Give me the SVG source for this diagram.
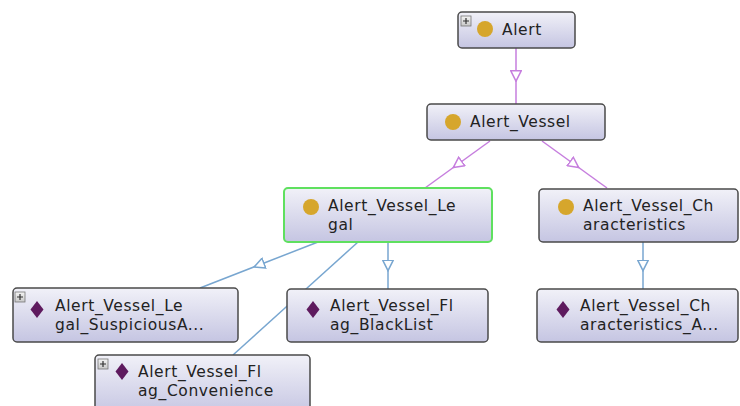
<svg xmlns="http://www.w3.org/2000/svg" width="740" height="406" viewBox="0 0 740 406">
<style>
.box{fill:url(#g);stroke:#4a4a4a;stroke-width:1.5}
.sel{fill:url(#g);stroke:#5fe05f;stroke-width:2}
.t{font-family:"DejaVu Sans",Verdana,sans-serif;font-size:15.5px;letter-spacing:0.6px;fill:#222}
.c{fill:#d6a62c}
.d{fill:#5e1a5e}
.p{fill:url(#pg);stroke:#777;stroke-width:0.8}
.pl{stroke:#333;stroke-width:1.2}
.e1{fill:none;stroke:#c67ede;stroke-width:1.5;marker-mid:url(#ap)}
.e2{fill:none;stroke:#78a6d0;stroke-width:1.5;marker-mid:url(#ab)}
</style>
<defs>
<linearGradient id="g" x1="0" y1="0" x2="0" y2="1">
<stop offset="0" stop-color="#f1f1f8"/>
<stop offset="1" stop-color="#c5c5e2"/>
</linearGradient>
<linearGradient id="pg" x1="0" y1="0" x2="0" y2="1">
<stop offset="0" stop-color="#f4f4f4"/>
<stop offset="1" stop-color="#c8c8c8"/>
</linearGradient>
<marker id="ap" viewBox="0 0 12 12" refX="6" refY="6" markerWidth="12" markerHeight="12" markerUnits="userSpaceOnUse" orient="auto">
<path d="M0.8,0.8 L11.2,6 L0.8,11.2 Z" fill="#fff" stroke="#c67ede" stroke-width="1.5"/>
</marker>
<marker id="ab" viewBox="0 0 12 12" refX="6" refY="6" markerWidth="12" markerHeight="12" markerUnits="userSpaceOnUse" orient="auto">
<path d="M0.8,0.8 L11.2,6 L0.8,11.2 Z" fill="#fff" stroke="#78a6d0" stroke-width="1.5"/>
</marker>
</defs>
<rect width="740" height="406" fill="#fff"/>
<g id="connectors">
<path class="e1" d="M516,48 L516,76 L516,104"/>
<path class="e1" d="M490,141 L457.5,164.5 L425,188"/>
<path class="e1" d="M542,141 L574.5,164.5 L607,188"/>
<path class="e2" d="M318,242 L259,265 L200,288"/>
<path class="e2" d="M388,242 L388,265.5 L388,289"/>
<path class="e2" d="M358,242 L295.5,298.5 L233,355"/>
<path class="e2" d="M643,242 L643,265.5 L643,289"/>
</g>
<g id="alert">
<rect class="box" x="458" y="12" width="117" height="36" rx="4"/>
<rect class="p" x="461" y="16" width="10" height="10"/>
<path class="pl" d="M463,21 H469 M466,18 V24"/>
<circle class="c" cx="485" cy="29" r="8"/>
<text class="t" x="502" y="35">Alert</text>
</g>
<g id="alert_vessel">
<rect class="box" x="427" y="104" width="178" height="36" rx="4"/>
<circle class="c" cx="453" cy="122" r="8"/>
<text class="t" x="470" y="127">Alert_Vessel</text>
</g>
<g id="alert_vessel_legal">
<rect class="sel" x="284" y="188" width="208" height="54" rx="4"/>
<circle class="c" cx="311" cy="207" r="8"/>
<text class="t" x="328" y="211">Alert_Vessel_Le</text>
<text class="t" x="328" y="229.5">gal</text>
</g>
<g id="alert_vessel_characteristics">
<rect class="box" x="539" y="189" width="199" height="53" rx="4"/>
<circle class="c" cx="566" cy="207" r="8"/>
<text class="t" x="583" y="211">Alert_Vessel_Ch</text>
<text class="t" x="583" y="229.5">aracteristics</text>
</g>
<g id="alert_vessel_legal_suspicious">
<rect class="box" x="13" y="288" width="225" height="54" rx="4"/>
<rect class="p" x="15" y="292" width="10" height="10"/>
<path class="pl" d="M17,297 H23 M20,294 V300"/>
<path class="d" d="M37,301 L43.5,309.5 L37,318 L30.5,309.5 Z"/>
<text class="t" x="55" y="311">Alert_Vessel_Le</text>
<text class="t" x="55" y="329.5">gal_SuspiciousA...</text>
</g>
<g id="alert_vessel_flag_blacklist">
<rect class="box" x="287" y="289" width="201" height="53" rx="4"/>
<path class="d" d="M313,301 L319.5,309.5 L313,318 L306.5,309.5 Z"/>
<text class="t" x="330" y="311">Alert_Vessel_Fl</text>
<text class="t" x="330" y="329.5">ag_BlackList</text>
</g>
<g id="alert_vessel_characteristics_a">
<rect class="box" x="537" y="289" width="201" height="53" rx="4"/>
<path class="d" d="M563,301 L569.5,309.5 L563,318 L556.5,309.5 Z"/>
<text class="t" x="580" y="311">Alert_Vessel_Ch</text>
<text class="t" x="580" y="329.5">aracteristics_A...</text>
</g>
<g id="alert_vessel_flag_convenience">
<rect class="box" x="95" y="355" width="215" height="60" rx="4"/>
<rect class="p" x="98" y="359" width="10" height="10"/>
<path class="pl" d="M100,364 H106 M103,361 V367"/>
<path class="d" d="M122,363 L128.5,371.5 L122,380 L115.5,371.5 Z"/>
<text class="t" x="138" y="377">Alert_Vessel_Fl</text>
<text class="t" x="138" y="395.5">ag_Convenience</text>
</g>
</svg>
